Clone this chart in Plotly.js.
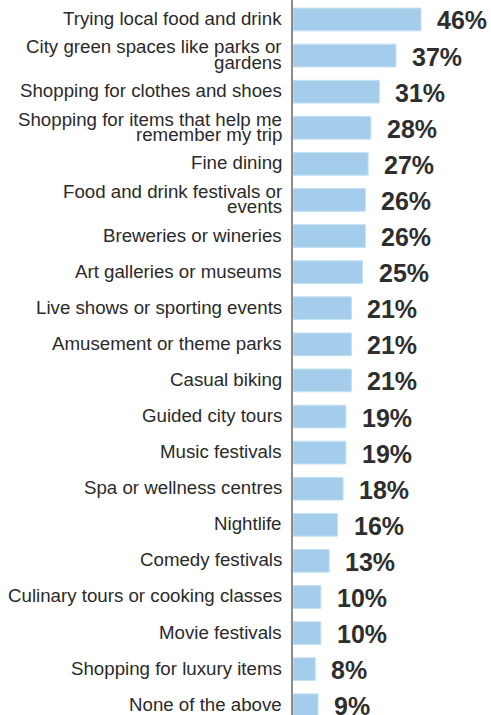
<!DOCTYPE html>
<html>
<head>
<meta charset="utf-8">
<script src="https://cdn.plot.ly/plotly-3.0.1.min.js"></script>
<style>html,body{margin:0;padding:0;background:#fff;}#chart{width:491px;height:715px;}</style>
</head>
<body>
<div id="chart"></div>
<script>
const categories = [
  "Trying local food and drink",
  "City green spaces like parks or\ngardens",
  "Shopping for clothes and shoes",
  "Shopping for items that help me\nremember my trip",
  "Fine dining",
  "Food and drink festivals or\nevents",
  "Breweries or wineries",
  "Art galleries or museums",
  "Live shows or sporting events",
  "Amusement or theme parks",
  "Casual biking",
  "Guided city tours",
  "Music festivals",
  "Spa or wellness centres",
  "Nightlife",
  "Comedy festivals",
  "Culinary tours or cooking classes",
  "Movie festivals",
  "Shopping for luxury items",
  "None of the above"
];
const values = [46, 37, 31, 28, 27, 26, 26, 25, 21, 21, 21, 19, 19, 18, 16, 13, 10, 10, 8, 9];
const valueLabels = values.map(v => v + "%");

const idx = categories.map((c, i) => i);

const trace = {
  type: "bar",
  orientation: "h",
  x: values,
  y: idx,
  width: 0.63,
  marker: {color: "#a3cdeb", line: {color: "#c4e0f4", width: 1}},
  hoverinfo: "none"
};

const annotations = [];
const lineSpacing = 15.5;
categories.forEach((c, i) => {
  const lines = c.split("\n");
  lines.forEach((ln, k) => {
    const off = (k - (lines.length - 1) / 2) * lineSpacing;
    annotations.push({
      xref: "paper", yref: "y", x: 0, y: i,
      text: ln, showarrow: false,
      xanchor: "right", yanchor: "middle",
      xshift: -9, yshift: -off + 1,
      font: {family: "Liberation Sans, Arial, sans-serif", size: 18.7, color: "#2a2a2a"}
    });
  });
});
values.forEach((v, i) => {
  annotations.push({
    xref: "x", yref: "y", x: v, y: i,
    text: "<b>" + valueLabels[i] + "</b>", showarrow: false,
    xanchor: "left", yanchor: "middle",
    xshift: 14, yshift: -1,
    font: {family: "Liberation Sans, Arial, sans-serif", size: 25, color: "#2e2e2e"}
  });
});

const layout = {
  width: 491, height: 715,
  margin: {l: 293, r: 0, t: 0, b: 0, pad: 0},
  paper_bgcolor: "#ffffff", plot_bgcolor: "#ffffff",
  showlegend: false,
  xaxis: {range: [0, 71.15], visible: false, fixedrange: true},
  yaxis: {
    range: [19.27, -0.54], showticklabels: false, showgrid: false, zeroline: false,
    showline: true, linecolor: "#8c8c8c", linewidth: 2, ticks: "", fixedrange: true
  },
  annotations: annotations
};

Plotly.newPlot("chart", [trace], layout, {staticPlot: true, displayModeBar: false});
</script>
</body>
</html>
